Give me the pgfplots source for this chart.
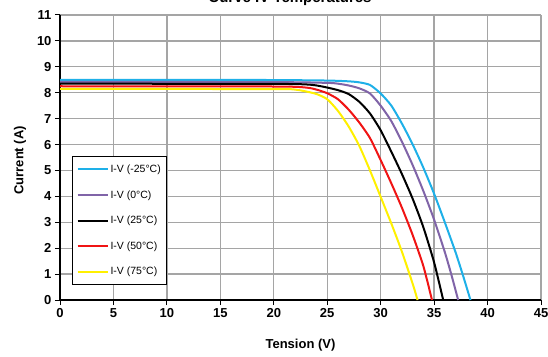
\documentclass[border=0pt]{standalone}
\usepackage{fontspec}
\setmainfont{Liberation Sans}
\usepackage{pgfplots}
\pgfplotsset{compat=1.18}
\definecolor{cCyan}{RGB}{30,176,232}
\definecolor{cPurple}{RGB}{128,100,168}
\definecolor{cRed}{RGB}{240,20,20}
\definecolor{cYellow}{RGB}{255,240,0}
\definecolor{cGrid}{RGB}{165,165,165}
\begin{document}
\begin{tikzpicture}[x=1pt,y=1pt]
\useasboundingbox (0,0) rectangle (548,356);
\node[font=\bfseries\fontsize{15}{15}\selectfont, anchor=base] at (290,353) {Curve IV-Temperatures};
\begin{axis}[
  at={(60pt,56pt)}, anchor=south west,
  scale only axis, width=481pt, height=285pt,
  xmin=0, xmax=45, ymin=0, ymax=11,
  xtick={0,5,...,45}, ytick={0,1,...,11},
  grid=major, grid style={cGrid, line width=1.3pt},
  axis lines*=left,
  axis line style={black, line width=1.6pt},
  tick style={black, line width=1pt},
  tick align=outside, major tick length=5pt,
  /pgf/number format/assume math mode=true,
  ticklabel style={font=\bfseries\fontsize{13}{13}\selectfont},
  xlabel={Tension (V)}, ylabel={Current (A)},
  xlabel style={font=\bfseries\fontsize{13}{13}\selectfont, at={(axis description cs:0.5,-0.158)}, anchor=center},
  ylabel style={font=\bfseries\fontsize{13}{13}\selectfont, at={(axis description cs:-0.083,0.49)}, anchor=center, rotate=0},
  legend style={at={(axis description cs:0.025,0.053)}, anchor=south west, draw=black, line width=1pt,
    font=\fontsize{10.5}{12}\selectfont, row sep=12.5pt, inner xsep=4pt, inner ysep=6pt},
  legend cell align=left,
  legend image code/.code={\draw[#1, line width=2pt] (0pt,0pt) -- (30pt,0pt);},
  every axis plot/.append style={line width=2pt, smooth, tension=0.4},
]
\addplot[cCyan] coordinates {(0,8.5)(10,8.5)(20,8.49)(25,8.47)(27,8.44)(28,8.4)(29,8.3)(30,7.97)(31,7.5)(32,6.8)(33,6.0)(34,5.1)(35,4.1)(36,3.0)(37,1.85)(37.7,0.95)(38.4,0)};
\addlegendentry{I-V (-25°C)}
\addplot[cPurple] coordinates {(0,8.42)(20,8.41)(25,8.38)(26,8.35)(27,8.28)(28,8.17)(29,7.97)(30,7.5)(31,6.9)(32,6.1)(33,5.2)(34,4.2)(35,3.1)(36,1.85)(36.6,1.0)(37.25,0)};
\addlegendentry{I-V (0°C)}
\addplot[black] coordinates {(0,8.35)(20,8.34)(23,8.32)(24,8.28)(25,8.2)(26,8.1)(27,7.95)(28,7.65)(29,7.2)(30,6.55)(31,5.72)(32,4.85)(33,3.9)(34,2.8)(35,1.45)(35.85,0)};
\addlegendentry{I-V (25°C)}
\addplot[cRed] coordinates {(0,8.25)(20,8.24)(23,8.2)(24,8.12)(25,7.98)(26,7.75)(27,7.35)(28,6.85)(29,6.25)(30,5.4)(31,4.5)(32,3.55)(33,2.5)(34,1.3)(34.8,0)};
\addlegendentry{I-V (50°C)}
\addplot[cYellow] coordinates {(0,8.15)(20,8.14)(22,8.12)(23,8.05)(24,7.95)(25,7.75)(26,7.3)(27,6.7)(28,5.95)(29,5.0)(30,3.98)(31,2.95)(32,1.85)(33,0.62)(33.45,0)};
\addlegendentry{I-V (75°C)}
\end{axis}
\end{tikzpicture}
\end{document}
